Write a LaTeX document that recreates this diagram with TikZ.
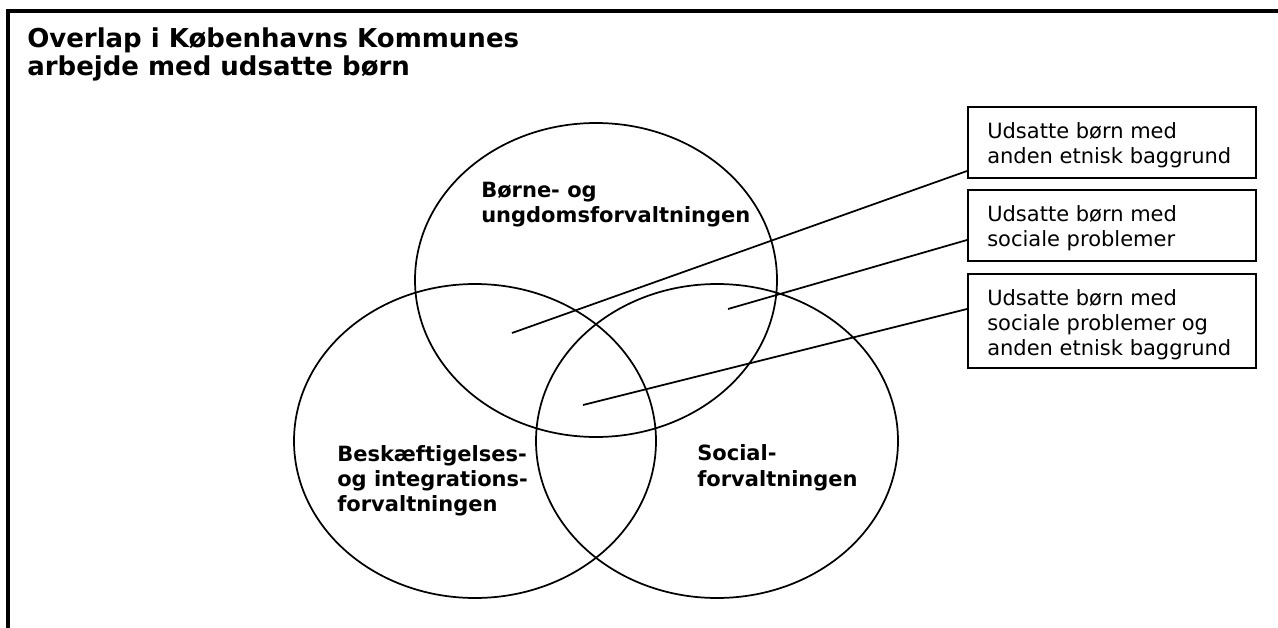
\documentclass[tikz,border=0pt]{standalone}
\usepackage{fontspec}
\setmainfont{DejaVu Sans}
\usetikzlibrary{shapes.geometric,positioning,calc}
\tikzset{every node/.append style={align=left}}

\begin{document}
\begin{tikzpicture}[
    x=0.75pt, y=-0.75pt,
    venn/.style={draw, ellipse, line width=1.3pt, minimum width=271.5pt, minimum height=235.5pt, inner sep=0pt},
    forv/.style={font=\bfseries\fontsize{15.75pt}{19pt}\selectfont, anchor=base west, inner sep=0pt},
    infobox/.style={draw, line width=1.5pt, minimum width=216pt, inner sep=0pt},
    infotext/.style={font=\fontsize{15.75pt}{18.4pt}\selectfont, anchor=base west, inner sep=0pt},
    link/.style={line width=1.3pt}
]
    \useasboundingbox (0,0) rectangle (1278,628);

    % Frame and title
    \draw[line width=3pt] (1278,10.5) -- (8,10.5) -- (8,628);
    \node[font=\bfseries\fontsize{19.5pt}{21.5pt}\selectfont, anchor=base west, inner sep=0pt] (title) at (27,75.7) {Overlap i Københavns Kommunes\\arbejde med udsatte børn};

    % Circles
    \node[venn] (boern) at (596,280) {};
    \node[venn] (beskaeft) at (475,441) {};
    \node[venn] (social) at (717,441) {};
    \node[forv] (boernlbl) at (481,222.5) {Børne- og\\ungdomsforvaltningen};
    \node[forv] (beskaeftlbl) at (337,511.7) {Beskæftigelses-\\og integrations-\\forvaltningen};
    \node[forv] (sociallbl) at (697,486.3) {Social-\\forvaltningen};

    % Boxes
    \node[infobox, minimum height=53.25pt] (etnisk) at (1112,142.5) {};
    \node[infobox, minimum height=53.25pt] (sociale) at (1112,225.5) {};
    \node[infobox, minimum height=70.5pt] (begge) at (1112,321) {};
    \node[infotext] (etnisktxt) at ([xshift=15pt, yshift=-43.1pt]etnisk.north west) {Udsatte børn med\\anden etnisk baggrund};
    \node[infotext] (socialetxt) at ([xshift=15pt, yshift=-43.1pt]sociale.north west) {Udsatte børn med\\sociale problemer};
    \node[infotext] (beggetxt) at ([xshift=15pt, yshift=-61.5pt]begge.north west) {Udsatte børn med\\sociale problemer og\\anden etnisk baggrund};

    % Connectors
    \coordinate (etniskpt) at (512,333);
    \coordinate (socialept) at (728,309);
    \coordinate (beggept) at (583,405);
    \draw[link] (etniskpt) -- ([yshift=6pt]etnisk.south west);
    \draw[link] (socialept) -- ([yshift=16.5pt]sociale.south west);
    \draw[link] (beggept) -- ([yshift=-27pt]begge.north west);

\end{tikzpicture}
\end{document}
